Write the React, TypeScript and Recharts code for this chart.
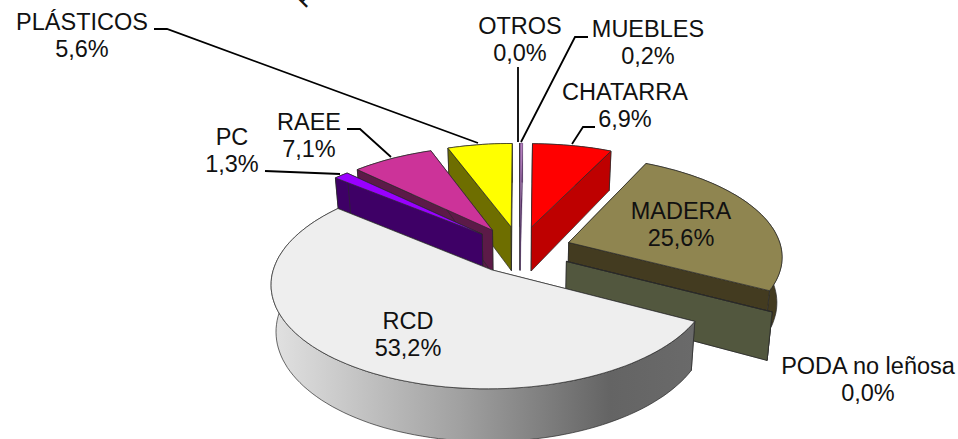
import { PieChart, Pie } from 'recharts'

// clockwise from the top of the pie
const categories = ['MUEBLES', 'CHATARRA', 'MADERA', 'PODA no leñosa', 'RCD', 'PC', 'RAEE', 'PLÁSTICOS', 'OTROS']
const shares = [0.2, 6.9, 25.6, 0.0, 53.2, 1.3, 7.1, 5.6, 0.0]

const topColors = ['#B57FBE', '#FF0000', '#8F8550', '#52573E', '#EEEEEE', '#9900FF', '#CC3399', '#FFFF00', '#B57FBE']
const wallColors = ['#4A2A5A', '#BE0000', '#433B20', '#52573E', 'url(#rcdWall)', '#3E0066', '#5C1A48', '#6E6E00', '#4A2A5A']
const explodes = [0.243, 0.243, 0.243, 0.243, 0.235, 0.243, 0.243, 0.243, 0.243]

// back to front
const drawOrder = ['PLÁSTICOS', 'CHATARRA', 'OTROS', 'MUEBLES', 'RAEE', 'PC', 'MADERA', 'PODA no leñosa', 'RCD']

// label centre x and first baseline
const labelSpots: Record<string, [number, number]> = {
  MUEBLES: [648, 37],
  CHATARRA: [625, 100],
  MADERA: [681, 219],
  'PODA no leñosa': [868, 374],
  RCD: [408, 329],
  PC: [232, 145],
  RAEE: [309, 130],
  'PLÁSTICOS': [82, 30],
  OTROS: [520, 34],
}
const leaders: Record<string, string> = {
  MUEBLES: '588,37 575,37 521,142',
  CHATARRA: '595,127 583,127 572,144',
  RAEE: '347,129 360,129 391,157',
  PC: '265,171 340,174',
  'PLÁSTICOS': '154,29 167,29 478,143',
  OTROS: '518,67 518,142',
}

const rows = categories.map((name, i) => ({ name, value: shares[i] }))

const TILT = 0.465
const PERSPECTIVE = 0.123
const DEPTH = 45
const SHRINK = 0.02

function Slice3D(props: any) {
  const { cx, cy, outerRadius, startAngle, endAngle, name } = props
  const i = categories.indexOf(name)
  const mid = ((startAngle + endAngle) / 2) * (Math.PI / 180)
  const offU = Math.cos(mid) * explodes[i]
  const offV = -Math.sin(mid) * explodes[i]

  const project = (angle: number, r: number, z: number) => {
    const a = (angle * Math.PI) / 180
    const u = offU + r * Math.cos(a)
    const v = offV - r * Math.sin(a)
    const w = 1 - PERSPECTIVE * v
    const x = cx + ((outerRadius * u) / w) * (1 - SHRINK * z)
    const y = cy + (outerRadius * TILT * v) / w + (DEPTH * z) / w
    return `${x.toFixed(1)},${y.toFixed(1)}`
  }

  const span = Math.abs(startAngle - endAngle)
  const arc: number[] = []
  const steps = Math.max(1, Math.ceil(span / 2))
  for (let s = 0; s <= steps; s++) arc.push(startAngle + ((endAngle - startAngle) * s) / steps)

  const topPts = [project(startAngle, 0, 0), ...arc.map((a) => project(a, 1, 0))].join(' ')
  const wallPts = [...arc.map((a) => project(a, 1, 0)), ...[...arc].reverse().map((a) => project(a, 1, 1))].join(' ')
  const radial = (a: number) =>
    [project(a, 0, 0), project(a, 1, 0), project(a, 1, 1), project(a, 0, 1)].join(' ')

  const wall = wallColors[i]
  const flat = wall.startsWith('url') ? '#777777' : wall
  const arcWall = <polygon points={wallPts} fill={wall} />
  const radials = (
    <>
      <polygon points={radial(startAngle)} fill={flat} />
      <polygon points={radial(endAngle)} fill={flat} />
    </>
  )
  // hairline on very thin slices so their colour still shows
  const thin = span > 0 && span < 2
  return (
    <g stroke={thin ? '#6A4A7A' : '#2A2A2A'} strokeWidth={thin ? 0.3 : 0.7} strokeLinejoin="round">
      {span > 180 ? radials : arcWall}
      {span > 180 ? arcWall : radials}
      <polygon points={topPts} fill={topColors[i]} />
    </g>
  )
}

function SliceLabel(props: any) {
  const { name, value } = props
  const [x, y] = labelSpots[name]
  const pct = `${Number(value).toFixed(1).replace('.', ',')}%`
  return (
    <g>
      {leaders[name] && <polyline points={leaders[name]} fill="none" stroke="#000" strokeWidth={1.8} />}
      <text x={x} y={y} textAnchor="middle" fontFamily="Liberation Sans" fontSize={23.5} fill="#111">
        {name}
      </text>
      <text x={x} y={y + 27} textAnchor="middle" fontFamily="Liberation Sans" fontSize={23.5} fill="#111">
        {pct}
      </text>
    </g>
  )
}

export default function App() {
  return (
    <div style={{ position: 'absolute', left: 0, top: 0, width: 958, height: 439, overflow: 'hidden' }}>
      <PieChart width={958} height={439} margin={{ top: 0, right: 0, bottom: 0, left: 0 }}>
        <defs>
          <linearGradient id="rcdWall" x1="0" y1="0" x2="1" y2="0">
            <stop offset="0" stopColor="#E2E2E2" />
            <stop offset="0.45" stopColor="#A0A0A0" />
            <stop offset="0.8" stopColor="#646464" />
            <stop offset="1" stopColor="#6A6A6A" />
          </linearGradient>
        </defs>
        {drawOrder.map((only) => (
          <Pie
            key={only}
            data={rows}
            dataKey="value"
            nameKey="name"
            cx={520}
            cy={250}
            outerRadius={213}
            startAngle={90}
            endAngle={-270}
            isAnimationActive={false}
            shape={(p: any) => (p.name === only ? <Slice3D {...p} /> : <g />)}
          />
        ))}
        <Pie
          data={rows}
          dataKey="value"
          nameKey="name"
          cx={520}
          cy={250}
          outerRadius={213}
          startAngle={90}
          endAngle={-270}
          isAnimationActive={false}
          shape={() => <g />}
          labelLine={false}
          label={(p: any) => <SliceLabel {...p} />}
        />
        <text x={305} y={9} transform="rotate(-45 305 9)" fontFamily="Liberation Sans" fontSize={23.5} fill="#111">
          P
        </text>
      </PieChart>
    </div>
  )
}
